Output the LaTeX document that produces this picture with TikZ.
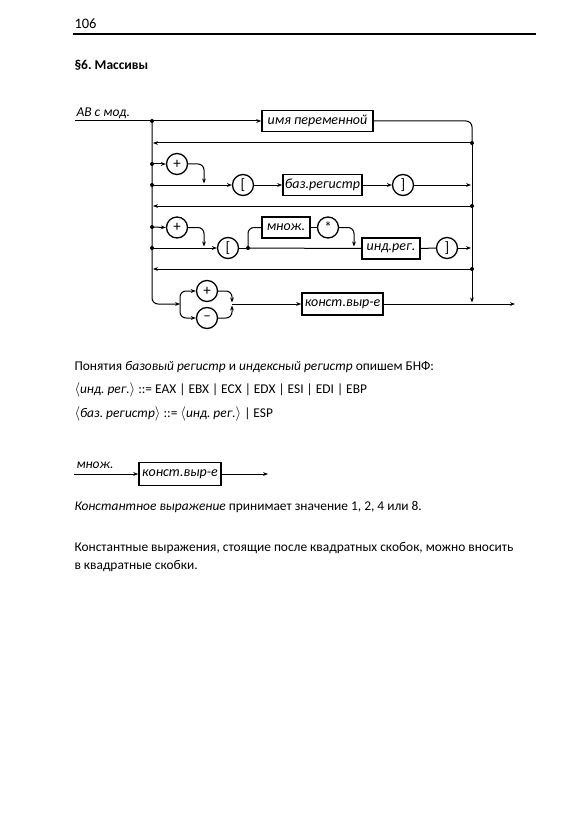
\documentclass[tikz,border=0pt]{standalone}
\usepackage{fontspec}
\setmainfont{Carlito}
\usetikzlibrary{arrows.meta}
\frenchspacing
\begin{document}
\frenchspacing
\begin{tikzpicture}[x=1pt,y=-1pt,
  >={Stealth[length=5pt,width=3.8pt]},
  every path/.style={line width=1pt},
  txt/.style={anchor=base west,inner sep=0pt,font=\fontsize{13.4}{16}\selectfont},
  termbox/.style={draw,line width=1.6pt,minimum height=21pt,inner sep=1pt,font=\itshape\fontsize{14}{16}\selectfont},
  term/.style={draw,circle,line width=1.3pt,minimum size=21pt,inner sep=0pt,font=\fontsize{15}{16}\selectfont},
  jdot/.style={circle,fill,inner sep=0pt,minimum size=4pt},
  rc/.style={rounded corners=6pt}]
\useasboundingbox[fill=white] (0,0) rectangle (583,829);

% header
\node[txt,font=\fontsize{14.5}{17}\selectfont] (pg) at (74,29) {106};
\draw[line width=1.1pt] (73,34) coordinate (hl) -- (536,34) coordinate (hr);
\node[txt,font=\bfseries\fontsize{13.5}{16}\selectfont] (sec) at (74,70) {§6. Массивы};

% diagram label
\node[txt,font=\itshape\fontsize{13.5}{16}\selectfont] (lab) at (76,117) {АВ с мод.};

% junctions
\coordinate (start) at (75,121);
\node[jdot] (L0) at (152,121) {};
\node[jdot] (L1) at (152,164) {};
\node[jdot] (L2) at (152,185) {};
\node[jdot] (L3) at (152,227) {};
\node[jdot] (L4) at (152,248) {};
\coordinate (Lr1) at (153,143);
\coordinate (Lr2) at (153,206);
\coordinate (Lr3) at (153,269);
\node[jdot] (R1) at (472,143) {};
\node[jdot] (R2) at (472,206) {};
\node[jdot] (R3) at (472,269) {};
\coordinate (Ra) at (471,185);
\coordinate (Rb) at (471,248);
\coordinate (Rtop) at (472,121);
\coordinate (Rend) at (472,302.5);
\coordinate (split) at (180,304);
\coordinate (merge) at (232,304);
\coordinate (exit) at (515,304);

% nodes
\node[termbox,minimum width=111pt] (var) at (317.5,121) {имя переменной};
\node[term] (p1) at (177,164) {+};
\node[term] (lb1) at (243,185) {[};
\node[termbox,minimum width=79pt] (base) at (322.5,185) {баз.регистр};
\node[term] (rb1) at (403,185) {]};
\node[term] (p2) at (177,227.5) {+};
\node[term] (lb2) at (228,248) {[};
\node[jdot] (D2) at (248,248) {};
\node[termbox,minimum width=48pt] (mul) at (286,227.5) {множ.};
\node[term] (st) at (328,227.5) {*};
\node[termbox,minimum width=58pt] (ind) at (391,248.5) {инд.рег.};
\node[term] (rb2) at (447,248) {]};
\node[term] (p3) at (207,291) {+};
\node[term] (m3) at (207,318) {--};
\node[termbox,minimum width=81pt,minimum height=22pt] (kon) at (342.5,304) {конст.выр-е};

% main entry
\draw[->] (start) -- (var.west);
\draw[rc] (var.east) -- (Rtop) -- (R1.center);
\draw[->] (R1.center) -- (Rend);
\draw[->] (R1.center) -- (Lr1);
\draw[->] (R2.center) -- (Lr2);
\draw[->] (R3.center) -- (Lr3);
\draw[->,rc] (L0.center) |- (split);

% row 1
\draw[->] (L1.center) -- (p1.west);
\draw[->,rc] (p1.east) -| (204,183.5);
\draw[->] (L2.center) -- (lb1.west);
\draw[->] (lb1.east) -- (base.west);
\draw[->] (base.east) -- (rb1.west);
\draw[->] (rb1.east) -- (Ra);

% row 2
\draw[->] (L3.center) -- (p2.west);
\draw[->,rc] (p2.east) -| (204,246.5);
\draw[->] (L4.center) -- (lb2.west);
\draw (lb2.east) -- (D2.center);
\draw[rc] (D2.center) |- (mul.west);
\draw (mul.east) -- (st.west);
\draw[->,rc] (st.east) -| (354,246.5);
\draw (D2.center) -- (ind.west);
\draw (ind.east) -- (rb2.west);
\draw[->] (rb2.east) -- (Rb);

% sign branch
\draw[->,rc] (split) |- (p3.west);
\draw[->,rc] (split) |- (m3.west);
\draw[->,rc] (p3.east) -| (232,302.5);
\draw[->,rc] (m3.east) -| (232,305.5);
\draw[->] (merge) -- (kon.west);
\draw[->] (kon.east) -- (exit);

% text
\node[txt] (t1) at (74,370) {Понятия \textit{базовый регистр} и \textit{индексный регистр} опишем БНФ:};
\node[txt] (t2) at (74,393) {$\langle$\textit{инд. рег.}$\rangle$ ::= EAX | EBX | ECX | EDX | ESI | EDI | EBP};
\node[txt] (t3) at (74,417) {$\langle$\textit{баз. регистр}$\rangle$ ::= $\langle$\textit{инд. рег.}$\rangle$ | ESP};

% second diagram
\node[txt,font=\itshape\fontsize{13.5}{16}\selectfont] (lab2) at (76,468) {множ.};
\coordinate (s2) at (74,474);
\node[termbox,minimum width=82pt,minimum height=23pt] (kon2) at (180,474) {конст.выр-е};
\coordinate (e2) at (268,474);
\draw[->] (s2) -- (kon2.west);
\draw[->] (kon2.east) -- (e2);

\node[txt] (t4) at (74,510) {\textit{Константное выражение} принимает значение 1, 2, 4 или 8.};
\node[txt] (t5) at (74,551.5) {Константные выражения, стоящие после квадратных скобок, можно вносить};
\node[txt] (t6) at (74,569) {в квадратные скобки.};
\end{tikzpicture}
\end{document}
